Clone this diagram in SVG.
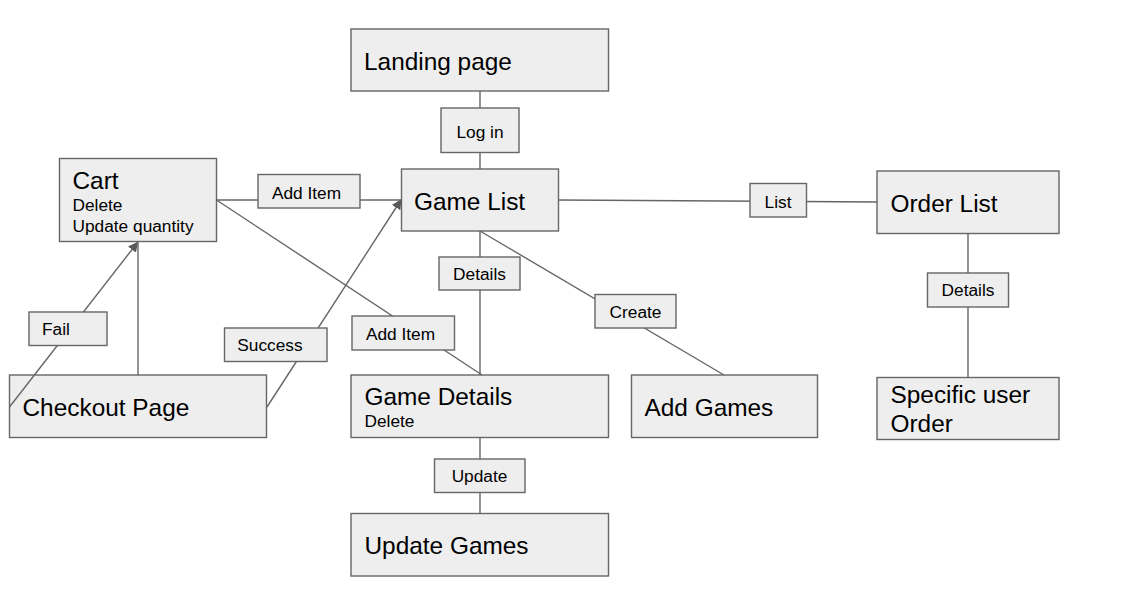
<svg xmlns="http://www.w3.org/2000/svg" width="1138" height="596" viewBox="0 0 1138 596">
<style>
.box{fill:#eeeeee;stroke:#666666;stroke-width:1.4}
.lbl{fill:#eeeeee;stroke:#666666;stroke-width:1.4}
.big{font-family:"Liberation Sans",Arial,sans-serif;font-size:24.4px;fill:#000}
.sm{font-family:"Liberation Sans",Arial,sans-serif;font-size:17.3px;fill:#000}
.ln{stroke:#666666;stroke-width:1.4;fill:none}
</style>
<defs>
<marker id="ah" viewBox="0 0 10 10" refX="9" refY="5" markerWidth="10" markerHeight="10" markerUnits="userSpaceOnUse" orient="auto">
<path d="M0,0 L10,5 L0,10 z" fill="#595959"/>
</marker>
</defs>
<rect width="1138" height="596" fill="#ffffff"/>
<g id="landing"><rect class="box" x="351" y="29" width="257.5" height="62"/><text class="big" x="364" y="70">Landing page</text></g>
<g id="gamelist"><rect class="box" x="401.5" y="169" width="157" height="62"/><text class="big" x="414" y="210">Game List</text></g>
<g id="orderlist"><rect class="box" x="877" y="171" width="182" height="62.5"/><text class="big" x="890.5" y="212">Order List</text></g>
<g id="specific"><rect class="box" x="877" y="377.5" width="182" height="62"/><text class="big" x="890.5" y="402.5">Specific user</text><text class="big" x="890.5" y="432">Order</text></g>
<g id="addgames"><rect class="box" x="631.5" y="375" width="186" height="62.5"/><text class="big" x="644.5" y="416">Add Games</text></g>
<g id="gamedetails"><rect class="box" x="351" y="375" width="257.5" height="62.5"/><text class="big" x="364.5" y="404.5">Game Details</text><text class="sm" x="364.5" y="426.5">Delete</text></g>
<g id="updategames"><rect class="box" x="351" y="513.5" width="257.5" height="62.5"/><text class="big" x="364.5" y="553.5">Update Games</text></g>
<g id="cart"><rect class="box" x="59.5" y="158.5" width="157" height="83"/><text class="big" x="72.5" y="188.5">Cart</text><text class="sm" x="72.5" y="211">Delete</text><text class="sm" x="72.5" y="232">Update quantity</text></g>
<g id="checkout"><rect class="box" x="9.5" y="375" width="257" height="62.5"/><text class="big" x="22.5" y="416">Checkout Page</text></g>
<g id="connectors">
<line class="ln" x1="480" y1="91" x2="480" y2="169"/>
<line class="ln" x1="480" y1="231" x2="480" y2="375"/>
<line class="ln" x1="480" y1="437.5" x2="480" y2="513.5"/>
<line class="ln" x1="480" y1="231" x2="724" y2="375"/>
<line class="ln" x1="558.5" y1="200" x2="877" y2="202"/>
<line class="ln" x1="968" y1="233.5" x2="968" y2="377.5"/>
<line class="ln" x1="216.5" y1="200" x2="401" y2="200"/>
<line class="ln" x1="216.5" y1="200" x2="482" y2="375"/>
<line class="ln" x1="267" y1="407" x2="401" y2="200" marker-end="url(#ah)"/>
<line class="ln" x1="9.5" y1="407" x2="137.5" y2="242.5" marker-end="url(#ah)"/>
<line class="ln" x1="138" y1="375" x2="138" y2="242"/>
</g>
<g id="label-login"><rect class="lbl" x="441" y="108" width="78" height="44.5"/><text class="sm" x="480" y="137.5" text-anchor="middle">Log in</text></g>
<g id="label-details1"><rect class="lbl" x="439" y="257" width="81" height="33"/><text class="sm" x="479.5" y="279.5" text-anchor="middle">Details</text></g>
<g id="label-create"><rect class="lbl" x="595" y="294.5" width="81" height="33.5"/><text class="sm" x="635.5" y="317.5" text-anchor="middle">Create</text></g>
<g id="label-list"><rect class="lbl" x="750" y="183.5" width="56.5" height="33.5"/><text class="sm" x="778" y="207.5" text-anchor="middle">List</text></g>
<g id="label-details2"><rect class="lbl" x="927.5" y="273" width="81" height="34"/><text class="sm" x="968" y="296" text-anchor="middle">Details</text></g>
<g id="label-update"><rect class="lbl" x="434.5" y="459" width="90.5" height="33.5"/><text class="sm" x="479.5" y="482" text-anchor="middle">Update</text></g>
<g id="label-additem1"><rect class="lbl" x="258" y="174.5" width="102" height="33.5"/><text class="sm" x="306.5" y="198.5" text-anchor="middle">Add Item</text></g>
<g id="label-additem2"><rect class="lbl" x="352" y="316" width="102.5" height="34"/><text class="sm" x="400.5" y="340" text-anchor="middle">Add Item</text></g>
<g id="label-success"><rect class="lbl" x="224.5" y="328" width="102.5" height="33.5"/><text class="sm" x="270" y="350.5" text-anchor="middle">Success</text></g>
<g id="label-fail"><rect class="lbl" x="29" y="312" width="78" height="33.5"/><text class="sm" x="56" y="334.5" text-anchor="middle">Fail</text></g>
</svg>
